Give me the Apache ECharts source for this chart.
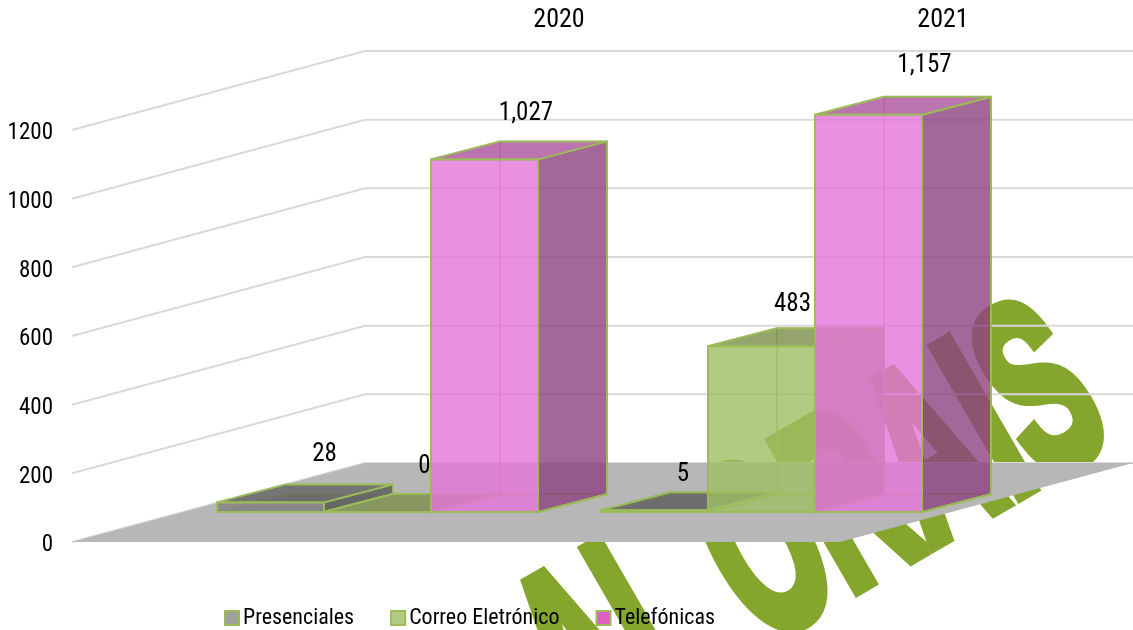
<!DOCTYPE html>
<html><head><meta charset="utf-8">
<style>html,body{margin:0;padding:0;background:#fff}#c{width:1133px;height:630px}</style>
<script src="https://cdn.jsdelivr.net/npm/echarts@6/dist/echarts.min.js"></script>
</head><body><div id="c"></div>
<script>
const categories = ['2020', '2021'];
const presenciales = [28, 5];
const correo = [0, 483];
const telefonicas = [1027, 1157];
const yTicks = [0, 200, 400, 600, 800, 1000, 1200];
const watermark = 'AL ORAIS';

const FONT = '"Roboto Condensed","Liberation Sans",Arial,sans-serif';
const AXIS_OFFSET = 113.5, BASE_LIFT = 30, BAR_FRAC = 107 / 384;
const DEPTH = [69, -18], WALL = [293, -79];
const EDGE = '#9BBB59';

function fmt(v) { return v.toLocaleString('en-US'); }

function poly(points, fill, z2, stroke) {
  return { type: 'polygon', z2: z2, shape: { points: points },
    style: { fill: fill, stroke: stroke === undefined ? EDGE : stroke, lineWidth: 2, lineJoin: 'round' } };
}

function barRenderer(slot, faces, labelOffsets) {
  return function (params, api) {
    const c = api.value(0), v = api.value(1);
    const w = api.size([1, 0])[0] * BAR_FRAC;
    const p0 = api.coord([c, 0]), p1 = api.coord([c, v]);
    const x0 = p0[0] + (slot - 1.5) * w, x1 = x0 + w;
    const yb = p0[1] - BASE_LIFT, yt = p1[1] - BASE_LIFT;
    const d = DEPTH;
    const lo = labelOffsets[params.dataIndex];
    const children = [
      poly([[x0, yb], [x1, yb], [x1 + d[0], yb + d[1]], [x0 + d[0], yb + d[1]]], faces.bottom, 1),
      poly([[x0 + d[0], yb + d[1]], [x1 + d[0], yb + d[1]], [x1 + d[0], yt + d[1]], [x0 + d[0], yt + d[1]]], faces.back, 2, faces.inner),
      poly([[x0, yb], [x0 + d[0], yb + d[1]], [x0 + d[0], yt + d[1]], [x0, yt]], faces.back, 2, faces.inner),
      poly([[x1, yb], [x1 + d[0], yb + d[1]], [x1 + d[0], yt + d[1]], [x1, yt]], faces.side, 3),
      poly([[x0, yt], [x1, yt], [x1 + d[0], yt + d[1]], [x0 + d[0], yt + d[1]]], faces.top, 4),
      poly([[x0, yb], [x1, yb], [x1, yt], [x0, yt]], faces.front, 5),
      { type: 'text', z2: 9, style: { text: fmt(v), x: (x0 + x1) / 2 + lo[0], y: yt + lo[1] + 2.5,
        font: '25px ' + FONT, fill: '#000', textAlign: 'center', textVerticalAlign: 'middle' } }
    ];
    return { type: 'group', children: children };
  };
}

function toData(arr) { return arr.map((v, i) => [i, v]); }

const chart = echarts.init(document.getElementById('c'), null, { renderer: 'canvas' });
chart.setOption({
  animation: false,
  backgroundColor: '#fff',
  textStyle: { fontFamily: FONT },
  grid: [
    { left: 185.5, top: 130, width: 768, height: 412, outerBoundsMode: 'none', containLabel: false },
    { left: 367, top: 36, width: 768, height: 400, outerBoundsMode: 'none', containLabel: false }
  ],
  xAxis: [
    { type: 'category', data: categories, gridIndex: 0, show: false },
    { type: 'category', data: categories, gridIndex: 1, position: 'top',
      axisLine: { show: false }, axisTick: { show: false }, splitLine: { show: false },
      axisLabel: { color: '#000', fontSize: 26, fontFamily: FONT, margin: 3 } }
  ],
  yAxis: [
    { type: 'value', min: 0, max: 1200, interval: 200, gridIndex: 0, offset: AXIS_OFFSET,
      axisLine: { show: false }, axisTick: { show: false }, splitLine: { show: false },
      axisLabel: { margin: 19, formatter: v => '{t|' + v + '}',
        rich: { t: { color: '#000', fontSize: 23, fontFamily: FONT, padding: [7, 0, 0, 0] } } } },
    { type: 'value', gridIndex: 1, show: false }
  ],
  legend: {
    left: 219, top: 602, itemWidth: 14, itemHeight: 14, itemGap: 36, icon: 'rect',
    textStyle: { color: '#000', fontSize: 22, fontFamily: FONT, padding: [0, 0, 0, -1] },
    data: ['Presenciales', 'Correo Eletrónico', 'Telefónicas']
  },
  graphic: { elements: [
    { type: 'text', z: -10, x: 1083, y: 380, rotation: 30 * Math.PI / 180, scaleX: 0.53,
      style: { text: watermark, font: 'bold 245px "Liberation Sans"', fill: '#85A62D', stroke: '#85A62D', lineWidth: 15,
        textAlign: 'right', textVerticalAlign: 'middle' }, silent: true }
  ] },
  series: [
    { type: 'custom', name: 'grid', z: 1, silent: true, data: yTicks.map(v => [0, v]),
      renderItem: function (params, api) {
        const cs = params.coordSys;
        const p = api.coord([0, api.value(1)]);
        const x = cs.x - AXIS_OFFSET;
        return { type: 'polyline', shape: { points: [[x, p[1]], [x + WALL[0], p[1] + WALL[1]], [x + WALL[0] + cs.width, p[1] + WALL[1]]] },
          style: { stroke: '#D9D9D9', lineWidth: 2, fill: null } };
      } },
    { type: 'custom', name: 'floor', z: 1.5, silent: true, data: [[0, 0]],
      renderItem: function (params, api) {
        const cs = params.coordSys;
        const y = api.coord([0, 0])[1];
        const x = cs.x - AXIS_OFFSET;
        return { type: 'polygon', shape: { points: [[x, y], [x + WALL[0], y + WALL[1]], [x + WALL[0] + cs.width, y + WALL[1]], [x + cs.width, y]] },
          style: { fill: '#B7B7B7' } };
      } },
    { type: 'custom', name: 'Presenciales', z: 2, data: toData(presenciales), encode: { x: 0, y: 1 },
      itemStyle: { color: '#A0A0A0', borderColor: EDGE, borderWidth: 2 },
      renderItem: barRenderer(0, { bottom: 'rgba(100,100,100,0.6)', back: 'rgba(0,0,0,0)', inner: 'rgba(155,187,89,0.25)',
        side: 'rgba(100,100,100,0.9)', top: 'rgba(105,105,105,0.85)', front: 'rgba(135,135,135,0.9)' }, [[54, -50], [28.5, -38]]) },
    { type: 'custom', name: 'Correo Eletrónico', z: 3, data: toData(correo), encode: { x: 0, y: 1 },
      itemStyle: { color: '#B2CB82', borderColor: EDGE, borderWidth: 2 },
      renderItem: barRenderer(1, { bottom: 'rgba(124,142,74,0)', back: 'rgba(0,0,0,0)', inner: 'rgba(155,187,89,0.5)',
        side: 'rgba(124,142,74,0.8)', top: 'rgba(124,142,74,0.8)', front: 'rgba(159,190,99,0.8)' }, [[47, -48], [31, -44]]) },
    { type: 'custom', name: 'Telefónicas', z: 4, data: toData(telefonicas), encode: { x: 0, y: 1 },
      itemStyle: { color: '#DF5FC0', borderColor: EDGE, borderWidth: 2 },
      renderItem: barRenderer(2, { bottom: 'rgba(229,116,216,0)', back: 'rgba(0,0,0,0)', inner: 'rgba(190,100,170,0.25)',
        side: 'rgba(140,65,128,0.8)', top: 'rgba(171,81,156,0.8)', front: 'rgba(229,116,216,0.8)' }, [[41.5, -48], [56, -52]]) }
  ]
});
</script></body></html>
